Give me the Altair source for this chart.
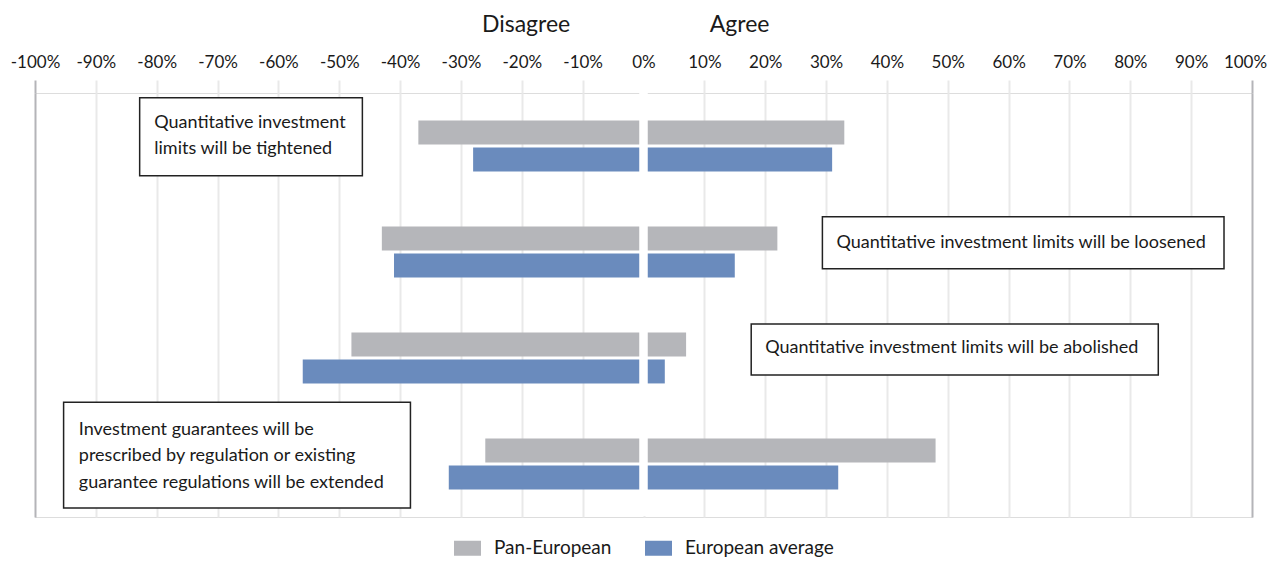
import altair as alt
import pandas as pd

# ---- data ----
statements = [
    "Quantitative investment limits will be tightened",
    "Quantitative investment limits will be loosened",
    "Quantitative investment limits will be abolished",
    "Investment guarantees will be prescribed by regulation or existing guarantee regulations will be extended",
]
series = ["Pan-European", "European average"]
pan_disagree = [-37, -43, -48, -26]
pan_agree = [33, 22, 7, 48]
eu_disagree = [-28, -41, -56, -32]
eu_agree = [31, 15, 3.5, 32]

tick_values = list(range(-100, 101, 10))
side_titles = ["Disagree", "Agree"]
side_title_x = [-19.3, 15.8]

# annotation boxes (x in %, y in row units: 0 = top of first row, 4 = bottom)
ann_text = [
    "Quantitative investment\nlimits will be tightened",
    "Quantitative investment limits will be loosened",
    "Quantitative investment limits will be abolished",
    "Investment guarantees will be\nprescribed by regulation or existing\nguarantee regulations will be extended",
]
ann_x1 = [-82.8, 29.4, 17.7, -95.3]
ann_x2 = [-46.2, 95.4, 84.6, -38.3]
ann_y1 = [0.044, 1.167, 2.18, 2.918]
ann_y2 = [0.78, 1.658, 2.66, 3.915]
ann_tx = [-80.4, 31.7, 20.0, -92.8]
ann_ty = [0.282, 1.412, 2.408, 3.175]

GRAY = "#b5b6ba"
BLUE = "#6a8bbd"
FONT = "Lato"
TXT = "#1a1a1a"

rows = []
for i, s in enumerate(statements):
    rows.append({"statement": s, "series": series[0], "value": pan_disagree[i]})
    rows.append({"statement": s, "series": series[0], "value": pan_agree[i]})
    rows.append({"statement": s, "series": series[1], "value": eu_disagree[i]})
    rows.append({"statement": s, "series": series[1], "value": eu_agree[i]})
bars_df = pd.DataFrame(rows)

ann_df = pd.DataFrame({
    "text": ann_text, "x1": ann_x1, "x2": ann_x2, "y1": ann_y1, "y2": ann_y2,
    "tx": ann_tx, "ty": ann_ty,
})
titles_df = pd.DataFrame({"t": side_titles, "x": side_title_x})

xscale = alt.Scale(domain=[-100, 100], nice=False, zero=False)

xaxis = alt.Axis(
    orient="top", values=tick_values, labelExpr="datum.value + '%'",
    grid=True, gridColor={"condition": {"test": "abs(datum.value) == 100", "value": "#b4b4b8"}, "value": "#e9e9e9"},
    gridWidth=2,
    tickColor={"condition": {"test": "abs(datum.value) == 100", "value": "#b4b4b8"}, "value": "#e9e9e9"},
    tickSize=13, tickWidth=2, domain=False,
    labelFont=FONT, labelFontSize=17, labelColor=TXT, labelPadding=13,
    labelOffset={"condition": {"test": "datum.value == 100", "value": -7}, "value": 0},
    labelBaseline="alphabetic", labelFlush=False, labelOverlap=False, title=None,
)

rect_path = "M-1,-0.5556H1V0.5556H-1Z"

bars = alt.Chart(bars_df).mark_bar().encode(
    x=alt.X("value:Q", scale=xscale, axis=xaxis, stack=None),
    y=alt.Y("statement:N", sort=statements, axis=None,
            scale=alt.Scale(paddingInner=0.52, paddingOuter=0.26)),
    yOffset=alt.YOffset("series:N", sort=series,
                        scale=alt.Scale(paddingInner=0.111, paddingOuter=0)),
    color=alt.Color("series:N", sort=series,
                    scale=alt.Scale(domain=series, range=[GRAY, BLUE]),
                    legend=alt.Legend(
                        title=None, orient="none", direction="horizontal",
                        legendX=419, legendY=441.5, padding=0,
                        symbolType=rect_path, symbolSize=729, symbolStrokeWidth=0,
                        symbolOpacity=1,
                        labelFont=FONT, labelFontSize=19, labelColor=TXT,
                        labelOffset=13, columnPadding=33,
                    )),
)

zero_rule = alt.Chart(titles_df).mark_rule(color="white", strokeWidth=8).encode(
    x=alt.datum(0), y=alt.value(-14), y2=alt.value(423)
)

yq = alt.Scale(domain=[0, 4], reverse=True, nice=False, zero=False)

boxes = alt.Chart(ann_df).mark_rect(fill="white", stroke="#222222", strokeWidth=1.5).encode(
    x=alt.X("x1:Q", scale=xscale), x2="x2:Q",
    y=alt.Y("y1:Q", scale=yq, axis=None), y2="y2:Q",
)

texts = alt.Chart(ann_df).mark_text(
    align="left", baseline="middle", font=FONT, fontSize=18, color=TXT,
    lineBreak="\n", lineHeight=26.5,
).encode(
    x=alt.X("tx:Q", scale=xscale),
    y=alt.Y("ty:Q", scale=yq, axis=None),
    text="text:N",
)

titles = alt.Chart(titles_df).mark_text(
    align="center", baseline="alphabetic", font=FONT, fontSize=23, color=TXT,
).encode(
    x=alt.X("x:Q", scale=xscale), y=alt.value(-61.3), text="t:N",
)

chart = alt.layer(bars, zero_rule, boxes, texts, titles).resolve_scale(
    y="independent"
).properties(
    width=1217, height=424,
    autosize=alt.AutoSizeParams(type="none"),
    padding={"left": 27, "top": 85, "right": 17, "bottom": 41},
).configure_view(
    stroke="#b4b4b8", strokeWidth=2
).configure(background="white")

chart.save("out.html", embed_options={"renderer": "svg", "actions": False})
